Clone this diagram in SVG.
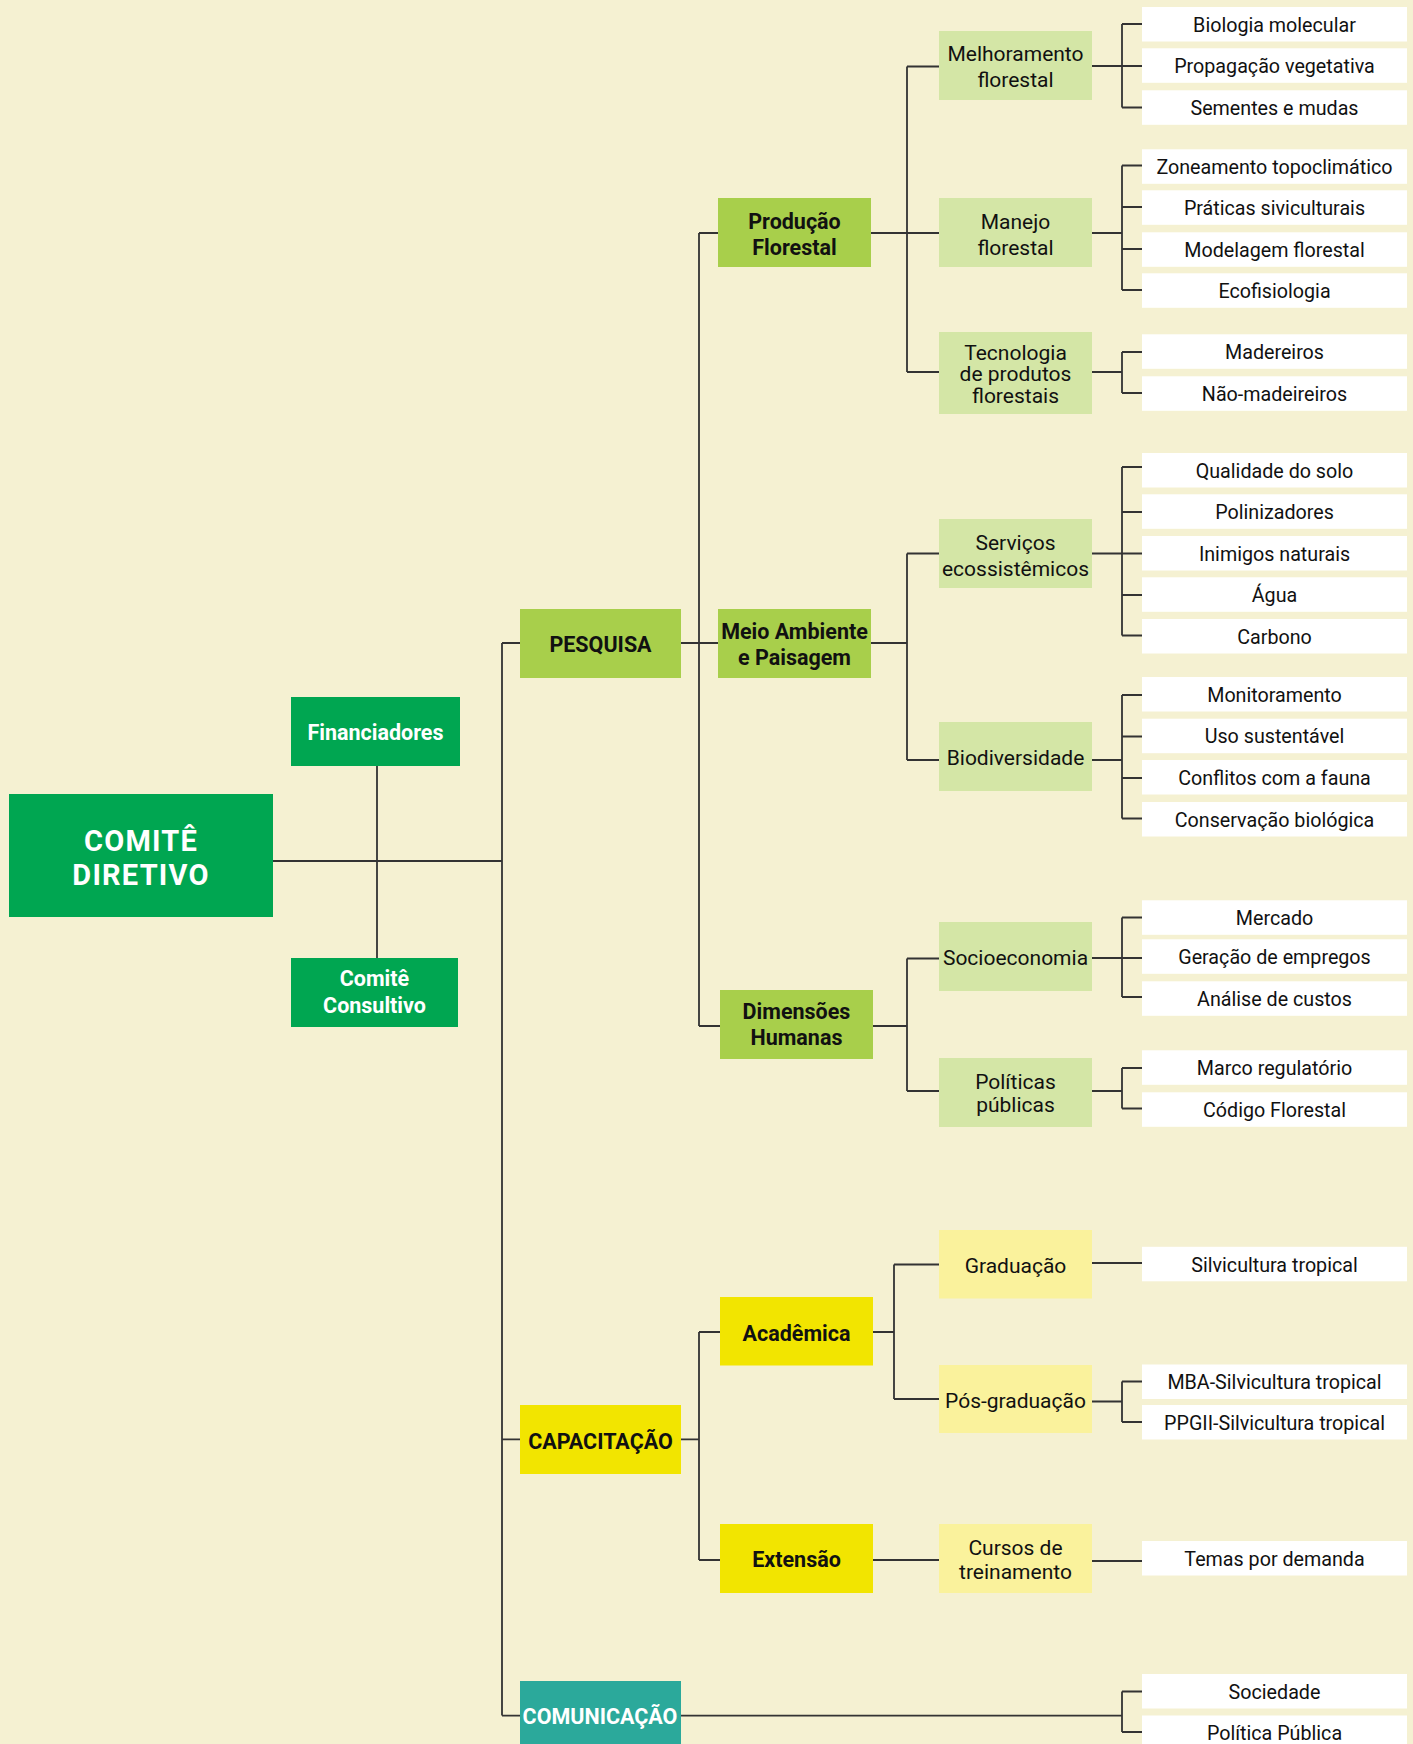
<svg xmlns="http://www.w3.org/2000/svg" width="1413" height="1744" viewBox="0 0 1413 1744">
<style>
.bg{fill:#F5F1D2}
.root{fill:#00A651}
.dg{fill:#00A651}
.l1g{fill:#A8CF4B}
.l3g{fill:#D4E6A6}
.l1y{fill:#F2E500}
.l3y{fill:#FAF29C}
.teal{fill:#2BA99B}
.leaf{fill:#FFFFFF}
text{font-family:Roboto,"Liberation Sans",sans-serif;text-anchor:middle;fill:#111}
.tl{font-size:19.7px}
.t3{font-size:21px}
.tb{font-size:21.5px;font-weight:700}
.tw{fill:#FFFFFF}
.troot{font-size:29px;font-weight:700;fill:#FFFFFF;letter-spacing:1.2px}
.con path{fill:none;stroke:#333;stroke-width:1.8}
</style>
<rect class="bg" x="0" y="0" width="1413" height="1744"/>

<g id="connectors" class="con">
<path d="M273,861 H502 M377,766 V958 M502,643 V1715.6 M502,643 H520 M502,1439.4 H520 M502,1715.6 H520"/>
<path d="M681,1715.6 H1122 M1122,1691.5 V1732 M1122,1691.5 H1142 M1122,1732 H1142"/>
<path d="M681,643 H718 M699,233 V1026 M699,233 H718 M699,1026 H720"/>
<path d="M871,233 H939 M907,66.5 V372 M907,66.5 H939 M907,372 H939"/>
<path d="M1092,66 H1142 M1122,24 V107.5 M1122,24 H1142 M1122,107.5 H1142"/>
<path d="M1092,233 H1122 M1122,165.5 V290 M1122,165.5 H1142 M1122,207 H1142 M1122,249 H1142 M1122,290 H1142"/>
<path d="M1092,372 H1122 M1122,352 V393 M1122,352 H1142 M1122,393 H1142"/>
<path d="M871,643 H907 M907,553.5 V760 M907,553.5 H939 M907,760 H939"/>
<path d="M1092,553.5 H1142 M1122,467 V635.5 M1122,467 H1142 M1122,512 H1142 M1122,595 H1142 M1122,635.5 H1142"/>
<path d="M1092,760 H1122 M1122,695 V818.5 M1122,695 H1142 M1122,736.5 H1142 M1122,778 H1142 M1122,818.5 H1142"/>
<path d="M873,1026 H907 M907,958.5 V1091 M907,958.5 H939 M907,1091 H939"/>
<path d="M1092,958 H1142 M1122,917.5 V997 M1122,917.5 H1142 M1122,997 H1142"/>
<path d="M1092,1091 H1122 M1122,1068 V1108.5 M1122,1068 H1142 M1122,1108.5 H1142"/>
<path d="M681,1439.4 H699 M699,1332 V1560 M699,1332 H720 M699,1560 H720"/>
<path d="M873,1332 H894 M894,1264.5 V1399 M894,1264.5 H939 M894,1399 H939"/>
<path d="M1092,1263 H1142"/>
<path d="M1092,1401.5 H1122 M1122,1381.5 V1422 M1122,1381.5 H1142 M1122,1422 H1142"/>
<path d="M873,1560 H939 M1092,1561 H1142"/>
</g>

<g id="comite-diretivo"><rect class="root" x="9" y="794" width="264" height="123"/><text class="troot" x="141" y="851">COMITÊ</text><text class="troot" x="141" y="885">DIRETIVO</text></g>
<g id="financiadores"><rect class="dg" x="291" y="697" width="169" height="69"/><text class="tb tw" x="375.5" y="740">Financiadores</text></g>
<g id="comite-consultivo"><rect class="dg" x="291" y="958" width="167" height="69"/><text class="tb tw" x="374.5" y="986">Comitê</text><text class="tb tw" x="374.5" y="1012.5">Consultivo</text></g>

<g id="pesquisa"><rect class="l1g" x="520" y="609" width="161" height="69"/><text class="tb" x="600.5" y="652">PESQUISA</text></g>
<g id="capacitacao"><rect class="l1y" x="520" y="1405" width="161" height="69"/><text class="tb" x="600.5" y="1448.5">CAPACITAÇÃO</text></g>
<g id="comunicacao"><rect class="teal" x="520" y="1681" width="161" height="70"/><text class="tb tw" x="600" y="1724">COMUNICAÇÃO</text></g>

<g id="producao-florestal"><rect class="l1g" x="718" y="198" width="153" height="69"/><text class="tb" x="794.5" y="228.5">Produção</text><text class="tb" x="794.5" y="254.5">Florestal</text></g>
<g id="meio-ambiente"><rect class="l1g" x="718" y="609" width="153" height="69"/><text class="tb" x="794.5" y="639">Meio Ambiente</text><text class="tb" x="794.5" y="665">e Paisagem</text></g>
<g id="dimensoes-humanas"><rect class="l1g" x="720" y="990" width="153" height="69"/><text class="tb" x="796.5" y="1018.5">Dimensões</text><text class="tb" x="796.5" y="1045">Humanas</text></g>
<g id="academica"><rect class="l1y" x="720" y="1297" width="153" height="68.5"/><text class="tb" x="796.5" y="1340.5">Acadêmica</text></g>
<g id="extensao"><rect class="l1y" x="720" y="1524" width="153" height="69"/><text class="tb" x="796.5" y="1567">Extensão</text></g>

<g id="melhoramento"><rect class="l3g" x="939" y="31" width="153" height="69"/><text class="t3" x="1015.5" y="61">Melhoramento</text><text class="t3" x="1015.5" y="87">florestal</text></g>
<g id="manejo"><rect class="l3g" x="939" y="198" width="153" height="69"/><text class="t3" x="1015.5" y="228.5">Manejo</text><text class="t3" x="1015.5" y="254.5">florestal</text></g>
<g id="tecnologia"><rect class="l3g" x="939" y="332" width="153" height="82"/><text class="t3" x="1015.5" y="360">Tecnologia</text><text class="t3" x="1015.5" y="381">de produtos</text><text class="t3" x="1015.5" y="402.5">florestais</text></g>
<g id="servicos"><rect class="l3g" x="939" y="519" width="153" height="69"/><text class="t3" x="1015.5" y="549.5">Serviços</text><text class="t3" x="1015.5" y="575.5">ecossistêmicos</text></g>
<g id="biodiversidade"><rect class="l3g" x="939" y="722" width="153" height="69"/><text class="t3" x="1015.5" y="764.5">Biodiversidade</text></g>
<g id="socioeconomia"><rect class="l3g" x="939" y="922" width="153" height="69"/><text class="t3" x="1015.5" y="965">Socioeconomia</text></g>
<g id="politicas"><rect class="l3g" x="939" y="1058" width="153" height="69"/><text class="t3" x="1015.5" y="1088.5">Políticas</text><text class="t3" x="1015.5" y="1112">públicas</text></g>
<g id="graduacao"><rect class="l3y" x="939" y="1230" width="153" height="68.5"/><text class="t3" x="1015.5" y="1273">Graduação</text></g>
<g id="pos-graduacao"><rect class="l3y" x="939" y="1365" width="153" height="68"/><text class="t3" x="1015.5" y="1408">Pós-graduação</text></g>
<g id="cursos"><rect class="l3y" x="939" y="1524" width="153" height="69"/><text class="t3" x="1015.5" y="1555">Cursos de</text><text class="t3" x="1015.5" y="1579">treinamento</text></g>

<g id="leaf-biologia"><rect class="leaf" x="1142" y="7" width="265" height="34.5"/><text class="tl" x="1274.5" y="31.8">Biologia molecular</text></g>
<g id="leaf-propagacao"><rect class="leaf" x="1142" y="48.3" width="265" height="34.5"/><text class="tl" x="1274.5" y="73">Propagação vegetativa</text></g>
<g id="leaf-sementes"><rect class="leaf" x="1142" y="90.3" width="265" height="34.5"/><text class="tl" x="1274.5" y="115">Sementes e mudas</text></g>
<g id="leaf-zoneamento"><rect class="leaf" x="1142" y="149.3" width="265" height="34.5"/><text class="tl" x="1274.5" y="174">Zoneamento topoclimático</text></g>
<g id="leaf-praticas"><rect class="leaf" x="1142" y="190.3" width="265" height="34.5"/><text class="tl" x="1274.5" y="215">Práticas siviculturais</text></g>
<g id="leaf-modelagem"><rect class="leaf" x="1142" y="232.3" width="265" height="34.5"/><text class="tl" x="1274.5" y="257">Modelagem florestal</text></g>
<g id="leaf-ecofisiologia"><rect class="leaf" x="1142" y="273.3" width="265" height="34.5"/><text class="tl" x="1274.5" y="298">Ecofisiologia</text></g>
<g id="leaf-madereiros"><rect class="leaf" x="1142" y="334.3" width="265" height="34.5"/><text class="tl" x="1274.5" y="359">Madereiros</text></g>
<g id="leaf-nao-madeireiros"><rect class="leaf" x="1142" y="376.3" width="265" height="34.5"/><text class="tl" x="1274.5" y="401">Não-madeireiros</text></g>
<g id="leaf-qualidade"><rect class="leaf" x="1142" y="453" width="265" height="34.5"/><text class="tl" x="1274.5" y="477.7">Qualidade do solo</text></g>
<g id="leaf-polinizadores"><rect class="leaf" x="1142" y="494.3" width="265" height="34.5"/><text class="tl" x="1274.5" y="519">Polinizadores</text></g>
<g id="leaf-inimigos"><rect class="leaf" x="1142" y="536" width="265" height="34.5"/><text class="tl" x="1274.5" y="560.7">Inimigos naturais</text></g>
<g id="leaf-agua"><rect class="leaf" x="1142" y="577.3" width="265" height="34.5"/><text class="tl" x="1274.5" y="602">Água</text></g>
<g id="leaf-carbono"><rect class="leaf" x="1142" y="619" width="265" height="34.5"/><text class="tl" x="1274.5" y="643.7">Carbono</text></g>
<g id="leaf-monitoramento"><rect class="leaf" x="1142" y="677" width="265" height="34.5"/><text class="tl" x="1274.5" y="701.7">Monitoramento</text></g>
<g id="leaf-uso"><rect class="leaf" x="1142" y="718.7" width="265" height="34.5"/><text class="tl" x="1274.5" y="743.4">Uso sustentável</text></g>
<g id="leaf-conflitos"><rect class="leaf" x="1142" y="760" width="265" height="34.5"/><text class="tl" x="1274.5" y="784.7">Conflitos com a fauna</text></g>
<g id="leaf-conservacao"><rect class="leaf" x="1142" y="802" width="265" height="34.5"/><text class="tl" x="1274.5" y="826.7">Conservação biológica</text></g>
<g id="leaf-mercado"><rect class="leaf" x="1142" y="900.3" width="265" height="34.5"/><text class="tl" x="1274.5" y="925">Mercado</text></g>
<g id="leaf-geracao"><rect class="leaf" x="1142" y="939.3" width="265" height="34.5"/><text class="tl" x="1274.5" y="964">Geração de empregos</text></g>
<g id="leaf-analise"><rect class="leaf" x="1142" y="981.3" width="265" height="34.5"/><text class="tl" x="1274.5" y="1006">Análise de custos</text></g>
<g id="leaf-marco"><rect class="leaf" x="1142" y="1050.3" width="265" height="34.5"/><text class="tl" x="1274.5" y="1075">Marco regulatório</text></g>
<g id="leaf-codigo"><rect class="leaf" x="1142" y="1092.3" width="265" height="34.5"/><text class="tl" x="1274.5" y="1117">Código Florestal</text></g>
<g id="leaf-silvicultura"><rect class="leaf" x="1142" y="1246.8" width="265" height="34.5"/><text class="tl" x="1274.5" y="1271.5">Silvicultura tropical</text></g>
<g id="leaf-mba"><rect class="leaf" x="1142" y="1364.5" width="265" height="34.5"/><text class="tl" x="1274.5" y="1389.2">MBA-Silvicultura tropical</text></g>
<g id="leaf-ppgii"><rect class="leaf" x="1142" y="1405" width="265" height="34.5"/><text class="tl" x="1274.5" y="1429.7">PPGII-Silvicultura tropical</text></g>
<g id="leaf-temas"><rect class="leaf" x="1142" y="1541" width="265" height="34.5"/><text class="tl" x="1274.5" y="1565.7">Temas por demanda</text></g>
<g id="leaf-sociedade"><rect class="leaf" x="1142" y="1674" width="265" height="34.5"/><text class="tl" x="1274.5" y="1698.7">Sociedade</text></g>
<g id="leaf-politica-publica"><rect class="leaf" x="1142" y="1715.5" width="265" height="34.5"/><text class="tl" x="1274.5" y="1740.2">Política Pública</text></g>
</svg>
